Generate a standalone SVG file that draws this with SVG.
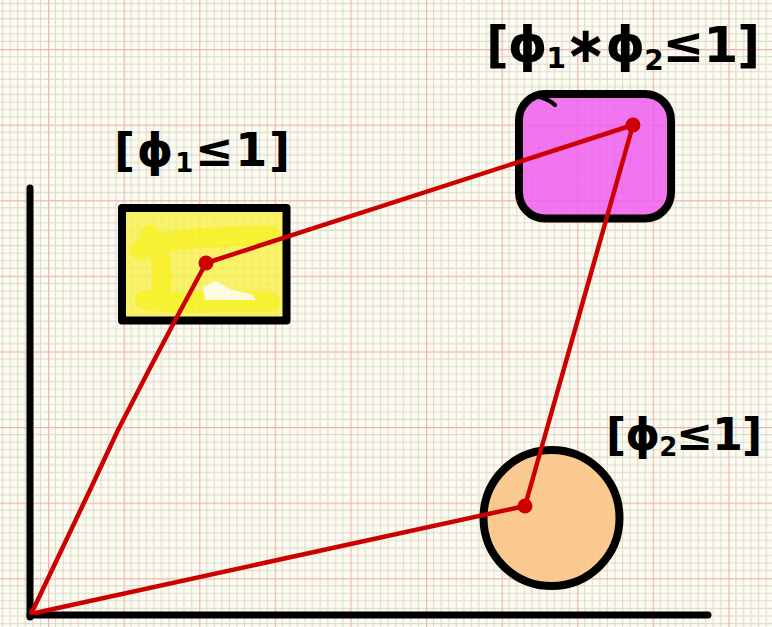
<svg xmlns="http://www.w3.org/2000/svg" width="772" height="627" viewBox="0 0 772 627">
<defs>
<pattern id="grid" x="48" y="49" width="75.6" height="75.6" patternUnits="userSpaceOnUse">
<path d="M7.56 0V75.6M15.12 0V75.6M22.68 0V75.6M30.24 0V75.6M37.8 0V75.6M45.36 0V75.6M52.92 0V75.6M60.48 0V75.6M68.04 0V75.6M0 7.56H75.6M0 15.12H75.6M0 22.68H75.6M0 30.24H75.6M0 37.8H75.6M0 45.36H75.6M0 52.92H75.6M0 60.48H75.6M0 68.04H75.6" stroke="#dedad0" stroke-width="1.1" fill="none"/>
<path d="M0.6 0V75.6M0 0.6H75.6" stroke="#f0b4b0" stroke-width="1.2" fill="none"/>
</pattern>
<style>
.outline{fill:none;stroke:#000;stroke-width:8;stroke-linejoin:round;stroke-linecap:round}
.axis{stroke:#000;stroke-width:7;stroke-linecap:round;fill:none}
.edge{stroke:#cc0000;stroke-width:4.5;fill:none;stroke-linecap:round;stroke-linejoin:round}
.dot{fill:#cc0000}
.lbl{font-family:"DejaVu Sans","Liberation Sans",sans-serif;font-weight:bold;fill:#000}
</style>
</defs>
<rect width="772" height="627" fill="#fdfcf0"/>
<rect width="772" height="627" fill="url(#grid)"/>

<g id="axes">
<path class="axis" d="M30 188V617"/>
<path class="axis" d="M30 615H708"/>
</g>

<g id="node-phi1">
<rect x="122" y="208" width="164.5" height="112.5" fill="#f6f04c" opacity="0.82"/>
<path d="M150 235C160 250 165 270 160 295M140 250C150 240 200 238 270 235M145 300C180 305 220 300 270 302" stroke="#f7f200" stroke-width="20" fill="none" opacity="0.5" stroke-linecap="round"/>
<path d="M203 287L216 281L232 290L252 294L256 300L205 300Z" fill="#fdfcf0" opacity="0.9"/>
<rect class="outline" x="122" y="208" width="164.5" height="112.5"/>
<text class="lbl" x="114" y="166" font-size="46" textLength="176" lengthAdjust="spacing">[ϕ<tspan font-size="26" dy="6">1</tspan><tspan dy="-6">≤1]</tspan></text>
</g>

<g id="node-phi1phi2">
<rect x="519" y="94" width="152" height="124.5" rx="26" fill="#ee5eee" opacity="0.85"/>
<rect class="outline" x="519" y="94" width="152" height="124.5" rx="26"/>
<path d="M540 97C546 99 552 102 555 105" stroke="#000" stroke-width="4" fill="none" stroke-linecap="round"/>
<text class="lbl" x="486" y="62" font-size="50" textLength="274" lengthAdjust="spacing">[ϕ<tspan font-size="28" dy="6">1</tspan><tspan dy="-6">∗ϕ</tspan><tspan font-size="28" dy="8">2</tspan><tspan dy="-8">≤1]</tspan></text>
</g>

<g id="node-phi2">
<circle cx="551.5" cy="518" r="68" fill="#fbc688" opacity="0.92"/>
<circle class="outline" cx="551.5" cy="518" r="68"/>
<text class="lbl" x="606" y="450" font-size="44" textLength="156" lengthAdjust="spacing">[ϕ<tspan font-size="26" dy="6">2</tspan><tspan dy="-6">≤1]</tspan></text>
</g>

<g id="connectors">
<path class="edge" d="M32 612L52 570L90 490L118 430L150 368L178 315L206 263"/>
<path class="edge" d="M35 613L525 506"/>
<path class="edge" d="M206 263L633 125"/>
<path class="edge" d="M633 125L525 506"/>
<circle class="dot" cx="206" cy="263" r="7.5"/>
<circle class="dot" cx="633" cy="125" r="7.5"/>
<circle class="dot" cx="525" cy="506" r="7.5"/>
<circle class="dot" cx="32" cy="612" r="3"/>
</g>
</svg>
